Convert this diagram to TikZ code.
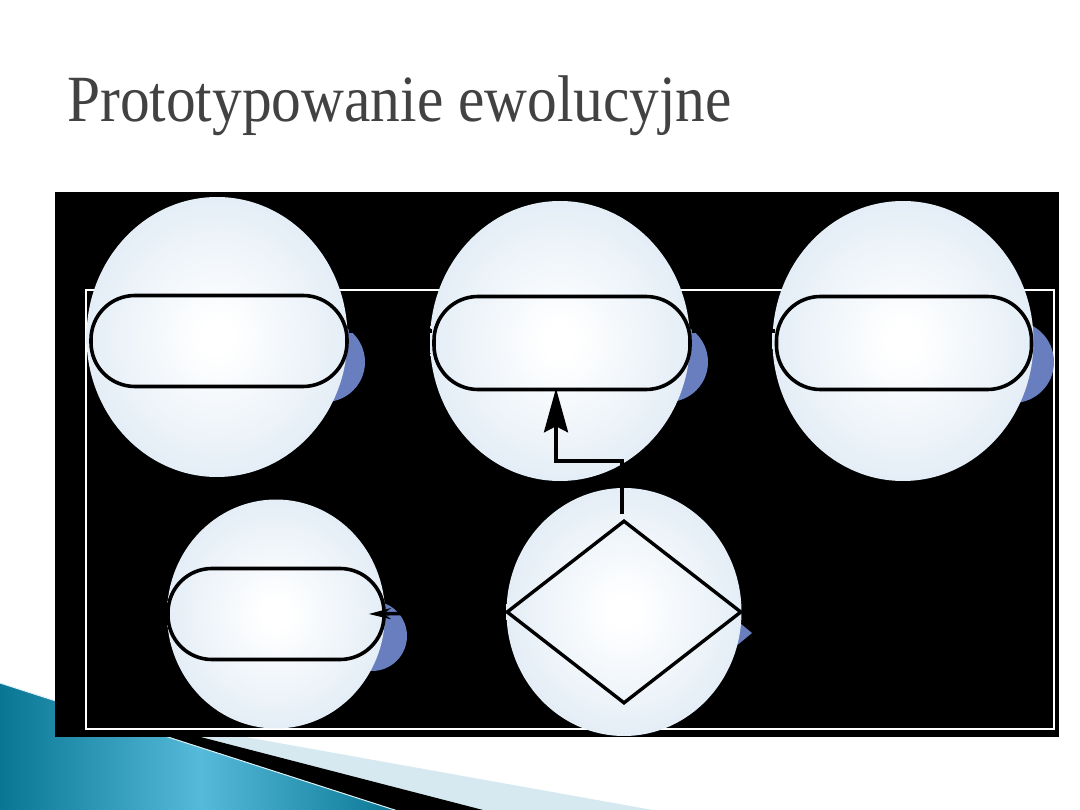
\documentclass[tikz,border=0pt]{standalone}
\usepackage{fontspec}
\setmainfont{Liberation Serif}
\usetikzlibrary{shapes.geometric,arrows.meta}
\definecolor{ballc}{RGB}{210,226,240}
\definecolor{blueh}{RGB}{104,126,190}
\definecolor{titc}{RGB}{66,66,66}
\definecolor{tealA}{RGB}{8,118,148}
\definecolor{tealB}{RGB}{86,186,218}
\definecolor{lband}{RGB}{214,233,241}
\pgfdeclareradialshading{ball}{\pgfpoint{0bp}{0bp}}{color(0bp)=(white); color(3bp)=(white); color(40bp)=(ballc); color(72bp)=(ballc)}
\begin{document}
\begin{tikzpicture}[x=1pt,y=-1pt,
  ballnode/.style={ellipse, draw=none, shading=ball, inner sep=0pt, outer sep=0pt},
  stadium/.style={draw=black, line width=3.6pt, rounded corners=44pt, inner sep=0pt, minimum height=91pt},
  conn/.style={draw=black, line width=3.6pt},
  crescent/.style={fill=blueh}]
\useasboundingbox (0,0) rectangle (1080,810);
\fill[white] (0,0) rectangle (1080,810);
% title
\node[anchor=base west, inner sep=0pt, text=titc, font=\fontsize{66}{70}\selectfont] (title) at (67,122) {\scalebox{0.9}[1]{Prototypowanie ewolucyjne}};
% bottom-left decoration
\fill[lband] (100,711) -- (664,812) -- (100,812) -- cycle;
\fill[black] (100,711) -- (483,810) -- (100,812) -- cycle;
\shade[left color=tealA, right color=tealA, middle color=tealB] (0,683) -- (401,812) -- (0,812) -- cycle;
\draw[white!80!tealB, line width=1pt] (0,683) -- (401,812);
% black panel
\fill[black] (55,192) rectangle (1059,737);
\draw[white, line width=1.2pt] (86,290) rectangle (1054,729);
% blue crescents
\fill[crescent] (325,362) circle[radius=40];
\fill[crescent] (668,362) circle[radius=40];
\fill[crescent] (1013,362) circle[radius=41];
\fill[crescent] (372,636) circle[radius=35];
\fill[crescent] (735,619) -- (752,633) -- (735,647) -- cycle;
% balls
\node[ballnode, minimum width=261pt, minimum height=280pt] (b1) at (217,337) {};
\node[ballnode, minimum width=260pt, minimum height=280pt] (b2) at (560,341) {};
\node[ballnode, minimum width=261pt, minimum height=280pt] (b3) at (903,341) {};
\node[ballnode, minimum width=218pt, minimum height=229pt] (b4) at (276,614) {};
\node[ballnode, minimum width=235pt, minimum height=248pt] (b5) at (624,612) {};
% shapes
\node[stadium, minimum width=256pt] (s1) at (219,341) {};
\node[stadium, minimum width=256pt, minimum height=93pt] (s2) at (562,343) {};
\node[stadium, minimum width=255pt, minimum height=93pt] (s3) at (904,343) {};
\node[stadium, minimum width=216pt] (s4) at (276,614) {};
\node[diamond, draw=black, line width=3.4pt, inner sep=0pt, minimum width=235pt, minimum height=183pt] (dia) at (624,612) {};
% connectors
\draw[conn] ([yshift=10pt]s1.east) -- ([yshift=10pt]s1.east -| s2.west);
\draw[conn] ([yshift=12pt]s2.east) -- ([yshift=12pt]s2.east -| s3.west);
\draw[conn, -{Stealth[length=22pt,width=11pt]}] (dia.west) -- ([xshift=-17pt]s4.east);
\draw[conn, -{Stealth[length=44pt,width=24pt,inset=6pt]}] ([xshift=-2pt,yshift=5pt]dia.north) -- ++(0,-53) -| ([xshift=-6pt,yshift=3pt]s2.south);
\end{tikzpicture}
\end{document}
